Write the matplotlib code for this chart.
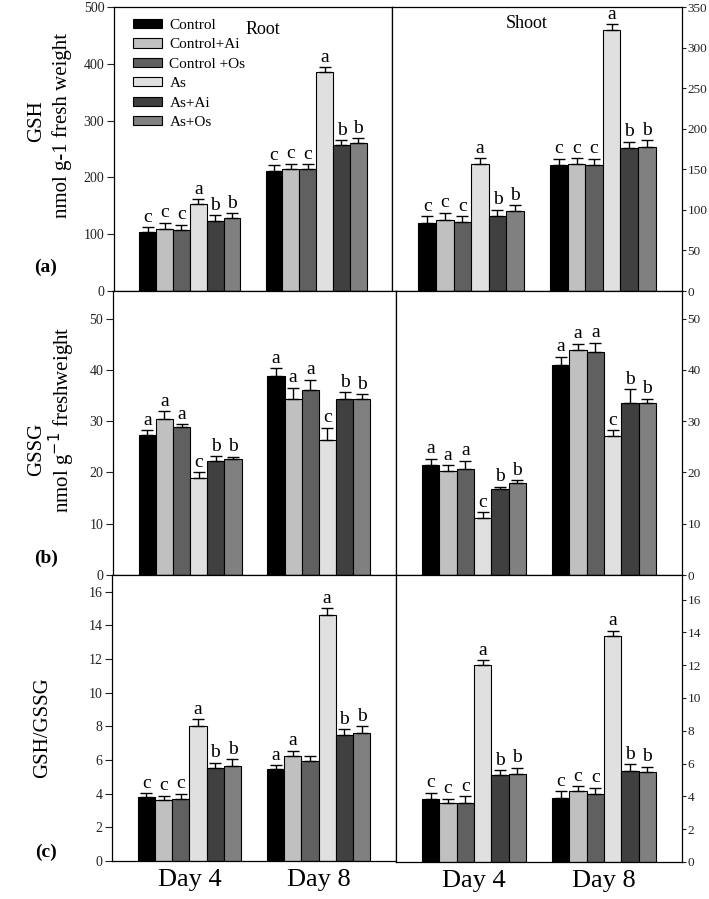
import numpy as np
import matplotlib
matplotlib.use("Agg")
import matplotlib.pyplot as plt

plt.rcParams['font.family'] = ['Liberation Serif', 'DejaVu Serif']

# treatments and fill colours
treatments = ["Control", "Control+Ai", "Control +Os", "As", "As+Ai", "As+Os"]
colors = ["#000000", "#c0c0c0", "#606060", "#e0e0e0", "#404040", "#808080"]
days = ["Day 4", "Day 8"]

# GSH (nmol g-1 fresh weight), [day4, day8]
gsh_root = [[104, 110, 107, 153, 124, 128], [212, 215, 214, 385, 257, 260]]
gsh_root_err = [[8, 10, 10, 9, 9, 9], [9, 9, 9, 9, 9, 9]]
gsh_root_let = [list("cccabb"), list("cccabb")]
gsh_shoot = [[84, 88, 85, 156, 93, 98], [155, 156, 155, 322, 176, 178]]
gsh_shoot_err = [[8, 8.5, 7, 8, 7, 8], [8, 8, 8, 7, 8, 8]]
gsh_shoot_let = [list("cccabb"), list("cccabb")]

# GSSG
gssg_root = [[27.3, 30.4, 28.8, 19.0, 22.3, 22.6], [38.8, 34.4, 36.1, 26.4, 34.4, 34.3]]
gssg_root_err = [[1.0, 1.5, 0.6, 1.0, 0.9, 0.5], [1.5, 2.1, 2.0, 2.3, 1.3, 1.0]]
gssg_root_let = [list("aaacbb"), list("aaacbb")]
gssg_shoot = [[21.5, 20.3, 20.7, 11.2, 16.8, 17.9], [40.9, 43.9, 43.5, 27.1, 33.5, 33.5]]
gssg_shoot_err = [[1.2, 1.1, 1.6, 1.1, 0.4, 0.6], [1.7, 1.2, 1.8, 1.2, 2.8, 0.9]]
gssg_shoot_let = [list("aaacbb"), list("aaacbb")]

# GSH/GSSG ratio
ratio_root = [[3.81, 3.63, 3.69, 8.04, 5.54, 5.64], [5.48, 6.23, 5.96, 14.63, 7.5, 7.62]]
ratio_root_err = [[0.22, 0.26, 0.3, 0.4, 0.3, 0.4], [0.2, 0.32, 0.27, 0.4, 0.32, 0.4]]
ratio_root_let = [list("cccabb"), ["a", "a", "", "a", "b", "b"]]
ratio_shoot = [[3.83, 3.57, 3.61, 12.0, 5.30, 5.36], [3.93, 4.34, 4.12, 13.8, 5.52, 5.50]]
ratio_shoot_err = [[0.4, 0.28, 0.4, 0.3, 0.29, 0.39], [0.4, 0.29, 0.4, 0.3, 0.43, 0.31]]
ratio_shoot_let = [list("cccabb"), list("cccabb")]

W, H = 709, 899
fig = plt.figure(figsize=(W / 100, H / 100), dpi=100)


def box(x0, y0, x1, y1):
    return [x0 / W, 1 - y1 / H, (x1 - x0) / W, (y1 - y0) / H]


def panel(rect, vals, errs, lets, ylim, yticks, side, xlabels=False):
    ax = fig.add_axes(rect)
    w = 0.8 / 6
    for g in range(2):
        for i in range(6):
            x = g + (i - 2.5) * w
            ax.bar(x, vals[g][i], width=w, color=colors[i], edgecolor="black",
                   linewidth=0.8, label=treatments[i] if g == 0 else None, zorder=2)
            ax.errorbar(x, vals[g][i], yerr=[[0], [errs[g][i]]], fmt="none",
                        ecolor="black", elinewidth=1, capsize=4, capthick=1, zorder=3)
            if lets[g][i]:
                ax.annotate(lets[g][i], (x, vals[g][i] + errs[g][i]), xytext=(0, 1),
                            textcoords="offset points", ha="center", va="bottom",
                            fontsize=14)
    ax.set_xlim(-0.6, 1.6)
    ax.set_ylim(*ylim)
    ax.set_yticks(yticks)
    if side == "right":
        ax.yaxis.tick_right()
        ax.tick_params(axis="y", direction="out", length=3, pad=1, labelsize=9.5,
                       colors="#222222")
    else:
        ax.tick_params(axis="y", direction="out", length=5, pad=2, labelsize=10,
                       colors="#222222")
    if xlabels:
        ax.set_xticks([0, 1])
        ax.set_xticklabels(days, fontsize=19)
        ax.tick_params(axis="x", length=0, pad=6)
    else:
        ax.set_xticks([])
    for s in ax.spines.values():
        s.set_linewidth(0.9)
    return ax


axa = panel(box(114, 7, 392, 291), gsh_root, gsh_root_err, gsh_root_let,
            (0, 500), range(0, 501, 100), "left")
panel(box(392, 7, 682, 291), gsh_shoot, gsh_shoot_err, gsh_shoot_let,
      (0, 350), range(0, 351, 50), "right")
panel(box(113, 291, 396, 575), gssg_root, gssg_root_err, gssg_root_let,
      (0, 55.4), range(0, 51, 10), "left")
panel(box(396, 291, 682, 575), gssg_shoot, gssg_shoot_err, gssg_shoot_let,
      (0, 55.4), range(0, 51, 10), "right")
panel(box(112, 575, 396, 861), ratio_root, ratio_root_err, ratio_root_let,
      (0, 17.0), range(0, 17, 2), "left", xlabels=True)
panel(box(396, 575, 682, 862), ratio_shoot, ratio_shoot_err, ratio_shoot_let,
      (0, 17.5), range(0, 17, 2), "right", xlabels=True)

axa.legend(loc="upper left", bbox_to_anchor=(0.04, 0.985), frameon=False, fontsize=11,
           borderpad=0, handlelength=1.9, handleheight=0.55, labelspacing=0.42,
           handletextpad=0.5)

fig.text(263 / W, 1 - 29 / H, "Root", ha="center", va="center", fontsize=13)
fig.text(527 / W, 1 - 23 / H, "Shoot", ha="center", va="center", fontsize=13)

fig.text(37 / W, 1 - 121 / H, "GSH", rotation=90, ha="center", va="center", fontsize=15)
fig.text(62 / W, 1 - 125 / H, "nmol g-1 fresh weight", rotation=90, ha="center",
         va="center", fontsize=15)
fig.text(37 / W, 1 - 449 / H, "GSSG", rotation=90, ha="center", va="center", fontsize=15)
fig.text(62 / W, 1 - 420 / H, "nmol g$^{-1}$ freshweight", rotation=90, ha="center",
         va="center", fontsize=15)
fig.text(43 / W, 1 - 728 / H, "GSH/GSSG", rotation=90, ha="center", va="center", fontsize=15)

for lab, y in [("(a)", 267), ("(b)", 558), ("(c)", 852)]:
    fig.text(46 / W, 1 - y / H, lab, ha="center", va="center", fontsize=14, fontweight="bold")

fig.savefig("out.png", dpi=100)
